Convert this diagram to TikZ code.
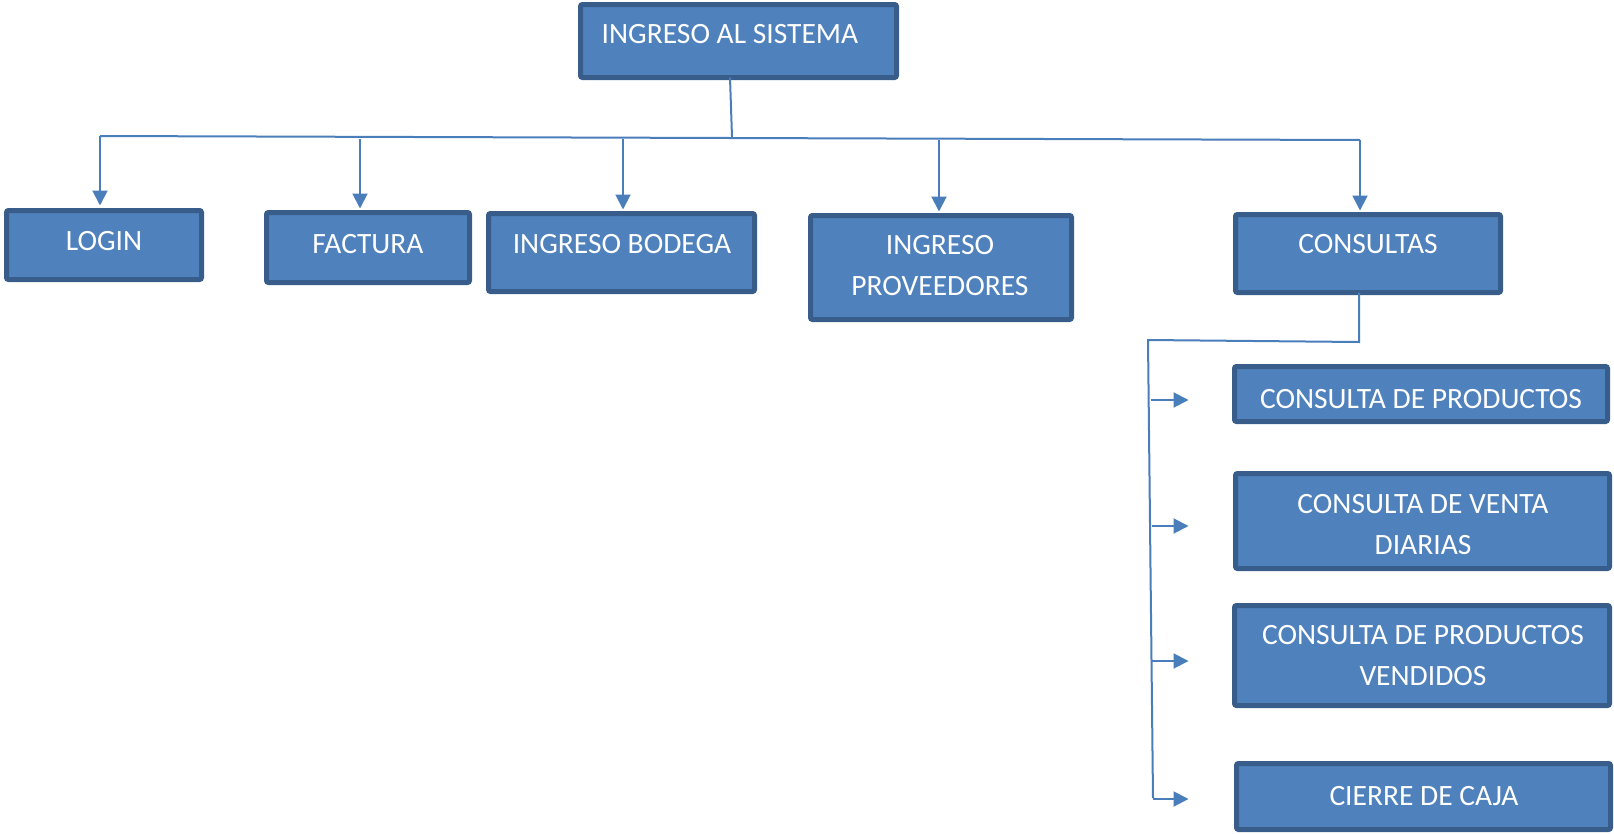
\documentclass[tikz,border=0pt]{standalone}
\usepackage{fontspec}
\setmainfont{Carlito}
\usetikzlibrary{arrows.meta}
\definecolor{boxfill}{HTML}{4F81BD}
\definecolor{boxline}{HTML}{385D8A}
\definecolor{connc}{HTML}{4A7EBB}
\begin{document}
\begin{tikzpicture}[x=1pt,y=-1pt,
 box/.style={draw=boxline, fill=boxfill, line width=5pt, rounded corners=2pt, inner sep=0pt, outer sep=0pt},
 lbl/.style={text=white, font=\fontsize{29.5}{41}\selectfont, align=center, anchor=base, inner sep=0pt},
 conn/.style={draw=connc, line width=2pt},
 arr/.style={conn, -{Triangle[length=15pt,width=15pt]}}]
\useasboundingbox (0,0) rectangle (1614,833);
% boxes
\node[box, minimum width=316pt, minimum height=73pt] (top) at (738.5,41) {};
\node[box, minimum width=195pt, minimum height=69pt] (login) at (104,245) {};
\node[box, minimum width=203pt, minimum height=70pt] (factura) at (368,247.5) {};
\node[box, minimum width=266pt, minimum height=78pt] (bodega) at (621.5,252.5) {};
\node[box, minimum width=261pt, minimum height=104pt] (prov) at (941,267.5) {};
\node[box, minimum width=265pt, minimum height=78pt] (consultas) at (1368,253.5) {};
\node[box, minimum width=373pt, minimum height=55pt] (cprod) at (1421,394) {};
\node[box, minimum width=374pt, minimum height=95pt] (cventa) at (1422.5,521) {};
\node[box, minimum width=375pt, minimum height=100pt] (cvend) at (1422,655.5) {};
\node[box, minimum width=374pt, minimum height=66pt] (cierre) at (1423.5,796.5) {};
% labels (base = baseline of last line)
\node[lbl] (ttop) at (730,43) {INGRESO AL SISTEMA};
\node[lbl] (tlogin) at (104,250) {LOGIN};
\node[lbl] (tfactura) at (368,253) {FACTURA};
\node[lbl] (tbodega) at (622,253) {INGRESO BODEGA};
\node[lbl] (tprov) at (940,295) {INGRESO\\PROVEEDORES};
\node[lbl] (tconsultas) at (1368,253) {CONSULTAS};
\node[lbl] (tcprod) at (1421,408) {CONSULTA DE PRODUCTOS};
\node[lbl] (tcventa) at (1423,554) {CONSULTA DE VENTA\\DIARIAS};
\node[lbl] (tcvend) at (1423,685) {CONSULTA DE PRODUCTOS\\VENDIDOS};
\node[lbl] (tcierre) at (1424,805) {CIERRE DE CAJA};
% top connectors
\coordinate (bt) at (732,137);
\coordinate (bl) at (100,136);
\coordinate (br) at (1360,140);
\coordinate (df) at (360,139);
\coordinate (db) at (623,139);
\coordinate (dp) at (939,140);
\draw[conn] ([xshift=-8.5pt]top.south) -- (bt);
\draw[conn] (bl) -- (br);
\draw[arr, shorten >=5pt] (bl) -- (bl |- login.north);
\draw[arr, shorten >=4pt] (df) -- (df |- factura.north);
\draw[arr, shorten >=4pt] (db) -- (db |- bodega.north);
\draw[arr, shorten >=4pt] (dp) -- (dp |- prov.north);
\draw[arr, shorten >=4pt] (br) -- (br |- consultas.north);
% consultas sub-tree
\coordinate (c1) at (1359,342);
\coordinate (c2) at (1148,340);
\coordinate (c3) at (1153,798);
\draw[conn] ([xshift=-9pt]consultas.south) -- (c1) -- (c2) -- (c3);
\coordinate (a1) at (1151,400);
\coordinate (a2) at (1151.5,526);
\coordinate (a3) at (1152,661);
\coordinate (a4) at (1153,799);
\draw[arr, shorten >=46pt] (a1) -- (a1 -| cprod.west);
\draw[arr, shorten >=47pt] (a2) -- (a2 -| cventa.west);
\draw[arr, shorten >=46pt] (a3) -- (a3 -| cvend.west);
\draw[arr, shorten >=48pt] (a4) -- (a4 -| cierre.west);
\end{tikzpicture}
\end{document}
